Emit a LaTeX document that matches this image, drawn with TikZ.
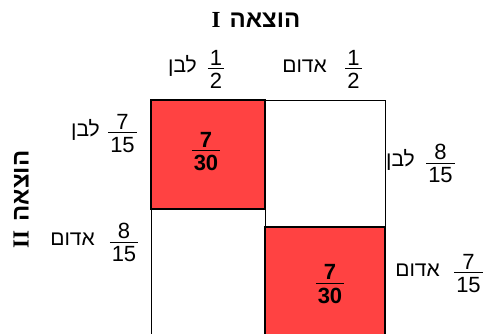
\documentclass[tikz,border=0pt]{standalone}
\usepackage{fontspec}
\setmainfont{Liberation Sans}
\newfontfamily\hebfont[Script=Hebrew]{Liberation Sans}
\newfontfamily\romserif{Liberation Serif}
\TeXXeTstate=1
\definecolor{cellred}{RGB}{255,66,66}
\newcommand\myfr[2]{\vbox{\offinterlineskip\halign{\hskip2pt\hfil##\hfil\hskip2pt\cr #1\cr\noalign{\kern3pt\hrule height 0.9pt\kern4pt}#2\cr}}}
\newcommand\ttltext[1]{{\romserif\fontsize{23}{26}\selectfont #1}\kern9pt{\hebfont\fontsize{24}{28}\selectfont\beginR הוצאה\endR}}
\begin{document}
\begin{tikzpicture}[x=1pt,y=1pt,
  word/.style={font=\hebfont\fontsize{21}{24}\selectfont, inner sep=0pt, anchor=base east},
  frc/.style={font=\fontsize{22}{25}\selectfont, inner sep=0pt},
  bfrc/.style={font=\bfseries\fontsize{22}{25}\selectfont, inner sep=0pt},
  cell/.style={draw=black, line width=1pt, inner sep=0pt, outer sep=0pt},
  redcell/.style={cell, fill=cellred, line width=1.6pt},
  ttl/.style={font=\bfseries, inner sep=0pt}]
\useasboundingbox (0,0) rectangle (483,-333);
% cells
\node[cell, minimum width=120pt, minimum height=127pt] (tr) at (325,-163.5) {};
\node[cell, minimum width=114pt, minimum height=130pt] (bl) at (208,-274) {};
\node[redcell, minimum width=114pt, minimum height=109pt] (tl) at (208,-154.5) {};
\node[redcell, minimum width=120pt, minimum height=112pt] (br) at (325,-283) {};
% cell values
\node[bfrc] (vtl) at (206,-151.5) {\myfr{7}{30}};
\node[bfrc] (vbr) at (330,-284) {\myfr{7}{30}};
% titles
\node[ttl, anchor=base] (t1) at (256,-27) {\ttltext{I}};
\node[ttl, rotate=90] (t2) at (21,-199.5) {\ttltext{II}};
% top labels
\node[word] (w1) at (197,-72) {\beginR לבן\endR};
\node[frc] (f1) at (216,-69.5) {\myfr{1}{2}};
\node[word] (w2) at (327,-72) {\beginR אדום\endR};
\node[frc] (f2) at (353.5,-69.5) {\myfr{1}{2}};
% left labels
\node[word] (w3) at (100,-136) {\beginR לבן\endR};
\node[frc] (f3) at (122.5,-133.5) {\myfr{7}{15}};
\node[word] (w4) at (95,-245) {\beginR אדום\endR};
\node[frc] (f4) at (124,-242.5) {\myfr{8}{15}};
% right labels
\node[word] (w5) at (415,-166) {\beginR לבן\endR};
\node[frc] (f5) at (440.5,-163.5) {\myfr{8}{15}};
\node[word] (w6) at (440,-276) {\beginR אדום\endR};
\node[frc] (f6) at (468.5,-273.5) {\myfr{7}{15}};
\end{tikzpicture}
\end{document}
